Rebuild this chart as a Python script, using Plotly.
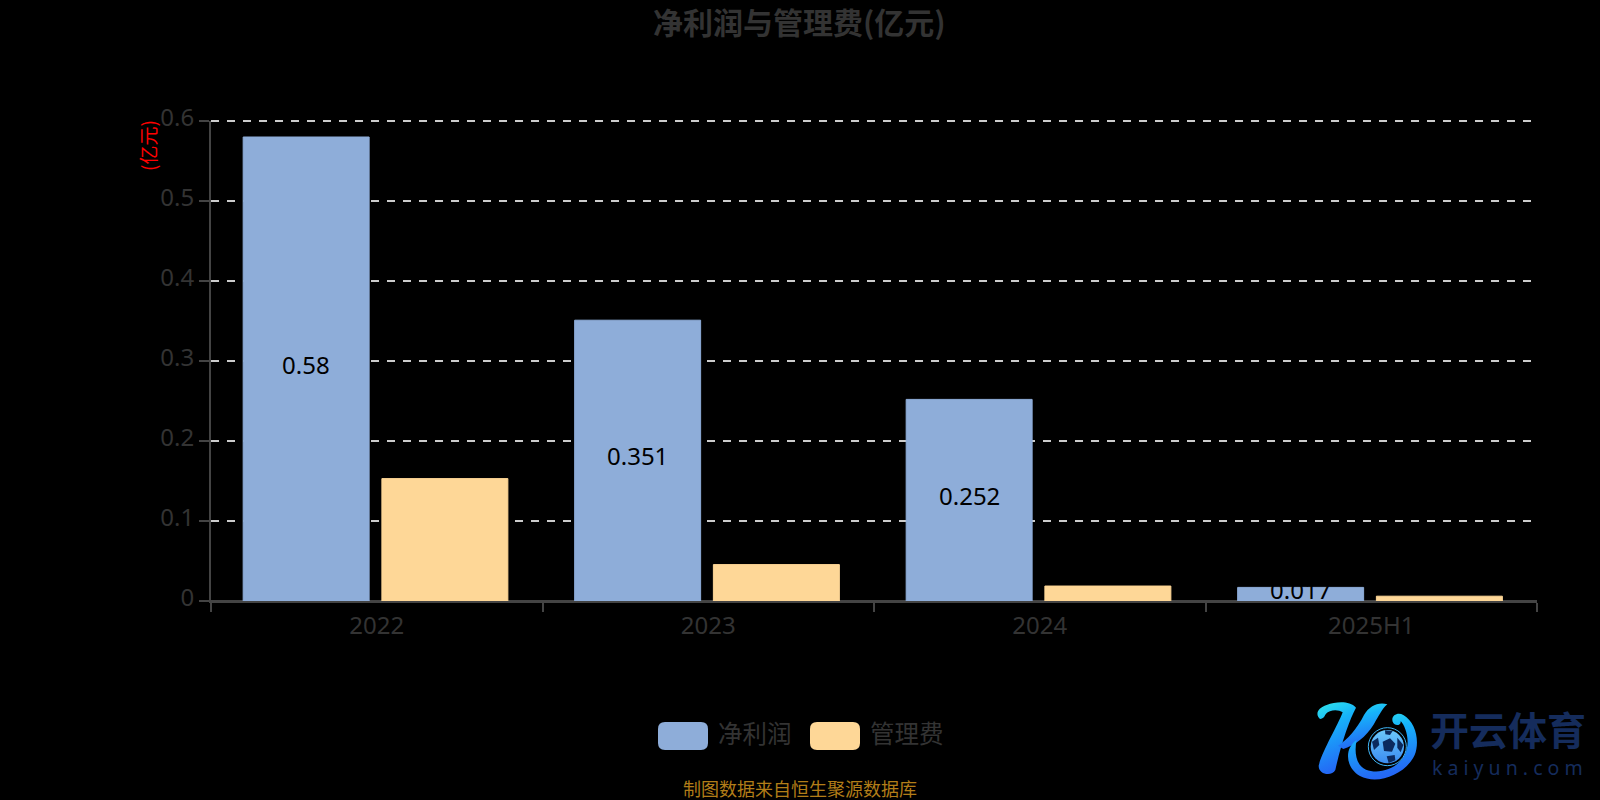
import base64
import plotly.graph_objects as go

# Data
years = ['2022', '2023', '2024', '2025H1']
net_profit = [0.58, 0.351, 0.252, 0.017]
admin_fee = [0.153, 0.0455, 0.0187, 0.006]
net_profit_labels = ['0.58', '0.351', '0.252', '0.017']
y_ticks = [0, 0.1, 0.2, 0.3, 0.4, 0.5, 0.6]
y_tick_labels = ['0', '0.1', '0.2', '0.3', '0.4', '0.5', '0.6']

BLUE = '#8eadd9'
ORANGE = '#fed797'
MUTED = '#333333'
AXIS = '#444444'
GRID = '#cccccc'
CJK = 'Noto Sans CJK SC'
LATIN = 'Noto Sans'

W, H = 1600, 800
ML, MR, MT, MB = 211, 63, 121, 199
PLOT_W = W - ML - MR
PLOT_H = H - MT - MB

BAR_WIDTH = 0.38
BLUE_OFFSET = -0.403
ORANGE_OFFSET = 0.0155


# paper coordinates are relative to the plot area, not the page
def px(x):
    return (x - ML) / PLOT_W


def py(y):
    return (H - MB - y) / PLOT_H


def rounded_rect(x0, y0, x1, y1, r):
    """SVG path in paper coordinates for a legend swatch."""
    ax, bx = px(x0), px(x1)
    ay, by = py(y0), py(y1)
    rx, ry = r / PLOT_W, r / PLOT_H
    return (
        f'M{ax + rx},{ay} L{bx - rx},{ay} Q{bx},{ay} {bx},{ay - ry} '
        f'L{bx},{by + ry} Q{bx},{by} {bx - rx},{by} '
        f'L{ax + rx},{by} Q{ax},{by} {ax},{by + ry} '
        f'L{ax},{ay - ry} Q{ax},{ay} {ax + rx},{ay} Z'
    )


# Logo mark (graphic only, the wordmark is real text below)
logo_svg = '''<svg xmlns="http://www.w3.org/2000/svg" width="360" height="270" viewBox="0 0 360 270">
<defs>
<linearGradient id="g" x1="0" y1="0" x2="0.25" y2="1">
<stop offset="0" stop-color="#32e6ea"/><stop offset="0.35" stop-color="#16b4fa"/><stop offset="1" stop-color="#2468f5"/>
</linearGradient>
<linearGradient id="b" x1="0" y1="0" x2="0" y2="1">
<stop offset="0" stop-color="#6cc8fa"/><stop offset="1" stop-color="#3a8cf0"/>
</linearGradient>
</defs>
<path fill="url(#g)" d="M30 72 C14 58 24 38 50 30 C78 20 118 16 138 38 C118 75 92 150 76 225 C66 245 26 240 26 212 C36 170 84 90 98 52 C85 42 58 44 48 56 C44 62 42 70 30 72 Z"/>
<path fill="url(#g)" d="M232 28 C205 20 178 33 162 60 C142 100 112 135 84 152 L100 162 C132 152 168 127 192 87 C207 62 216 42 232 28 Z"/>
<path fill="url(#g)" d="M140 135 C102 160 106 218 150 243 C200 270 284 242 314 180 C330 140 318 82 280 60 C263 50 242 62 248 80 C254 95 274 92 272 78 C286 92 304 140 284 180 C260 224 205 238 168 224 C138 212 132 170 140 135 Z"/>
<circle cx="232" cy="155" r="57" fill="#000000" stroke="#3fb4f5" stroke-width="3"/>
<circle cx="232" cy="155" r="50" fill="url(#b)"/>
<g fill="#0b2a5e">
<path d="M218 140 L240 130 L256 146 L246 170 L222 168 Z"/>
<path d="M225 106 L248 108 L240 120 L226 118 Z"/>
<path d="M186 140 L204 128 L208 150 L192 165 Z"/>
<path d="M262 128 L280 150 L272 172 L262 158 Z"/>
<path d="M230 184 L254 180 L256 196 L236 204 Z"/>
</g>
</svg>'''
logo_src = 'data:image/svg+xml;base64,' + base64.b64encode(logo_svg.encode()).decode()

fig = go.Figure()

fig.add_trace(go.Bar(
    x=years,
    y=net_profit,
    name='净利润',
    marker=dict(color=BLUE, line=dict(width=1, color=BLUE)),
    width=BAR_WIDTH,
    offset=BLUE_OFFSET,
    hoverinfo='x+y',
))

fig.add_trace(go.Bar(
    x=years,
    y=admin_fee,
    name='管理费',
    marker=dict(color=ORANGE, line=dict(width=1, color=ORANGE)),
    width=BAR_WIDTH,
    offset=ORANGE_OFFSET,
    hoverinfo='x+y',
))

shapes = [
    # Legend swatches are rounded in the original, so they are drawn by hand
    dict(type='path', xref='paper', yref='paper', path=rounded_rect(658, 722, 708, 750, 7),
         fillcolor=BLUE, line=dict(width=0)),
    dict(type='path', xref='paper', yref='paper', path=rounded_rect(810, 722, 860, 750, 7),
         fillcolor=ORANGE, line=dict(width=0)),
    # plotly drops the gridline that sits on the top edge of the plot
    dict(type='line', xref='paper', yref='paper', x0=0, x1=1, y0=1, y1=1, layer='below',
         line=dict(color=GRID, width=2, dash='8px,8px')),
]


def label(text, x, y, size, color, anchor='left', angle=0, bold=False, family=CJK):
    return dict(
        text=f'<b>{text}</b>' if bold else text,
        xref='paper', yref='paper',
        x=px(x), y=py(y),
        xanchor=anchor, yanchor='middle',
        textangle=angle,
        showarrow=False,
        font=dict(family=family, size=size, color=color),
    )


annotations = [
    label('净利润与管理费(亿元)', 799, 21, 30, MUTED, anchor='center', bold=True),
    label('(亿元)', 147, 146, 19, '#ff0000', anchor='center', angle=-90),
    label('净利润', 716, 732, 24.5, MUTED),
    label('管理费', 868, 732, 24.5, MUTED),
    label('制图数据来自恒生聚源数据库', 800, 788, 18, '#b27d18', anchor='center'),
    label('开云体育', 1428, 728, 39, '#152c5c', bold=True),
    label('k a i y u n . c o m', 1430, 767, 19.5, '#152c5c', family=LATIN),
]

# Value labels sit a little above the bar's middle, which bar text cannot do.
# On a category axis annotations take the serial number of the category.
for i, (value, text) in enumerate(zip(net_profit, net_profit_labels)):
    annotations.append(dict(
        x=i + BLUE_OFFSET + BAR_WIDTH / 2,
        y=value / 2,
        xref='x',
        yref='y',
        text=text,
        showarrow=False,
        xanchor='center',
        yanchor='middle',
        yshift=5,
        font=dict(family=LATIN, size=24, color='#000000'),
    ))

fig.update_layout(
    width=W,
    height=H,
    margin=dict(l=ML, r=MR, t=MT, b=MB, pad=0),
    paper_bgcolor='#000000',
    plot_bgcolor='#000000',
    barmode='group',
    showlegend=False,
    shapes=shapes,
    annotations=annotations,
    images=[dict(source=logo_src, xref='paper', yref='paper', x=px(1310), y=py(695),
                 sizex=120 / PLOT_W, sizey=90 / PLOT_H, xanchor='left', yanchor='top',
                 sizing='stretch', layer='above')],
    font=dict(family=CJK),
)

fig.update_xaxes(
    type='category',
    categoryorder='array',
    categoryarray=years,
    range=[-0.5, len(years) - 0.5],
    showline=True,
    linecolor=AXIS,
    linewidth=2,
    ticks='outside',
    tickson='boundaries',
    ticklen=9,
    tickwidth=2,
    tickcolor=AXIS,
    tickangle=0,
    ticklabelstandoff=2,
    showgrid=False,
    zeroline=False,
    tickfont=dict(family=LATIN, size=24, color=MUTED),
)

fig.update_yaxes(
    range=[0, 0.6],
    tickmode='array',
    tickvals=y_ticks,
    ticktext=y_tick_labels,
    showline=True,
    linecolor=AXIS,
    linewidth=2,
    ticks='outside',
    ticklen=10,
    tickwidth=2,
    tickcolor=AXIS,
    ticklabelshift=-3,
    showgrid=True,
    gridcolor=GRID,
    gridwidth=2,
    griddash='8px,8px',
    zeroline=True,
    zerolinecolor=AXIS,
    zerolinewidth=2,
    tickfont=dict(family=LATIN, size=24, color=MUTED),
)

fig.write_html(
    "out.html",
    config=dict(displayModeBar=False),
    post_script="document.body.style.margin='0';document.body.style.background='#000';",
)
